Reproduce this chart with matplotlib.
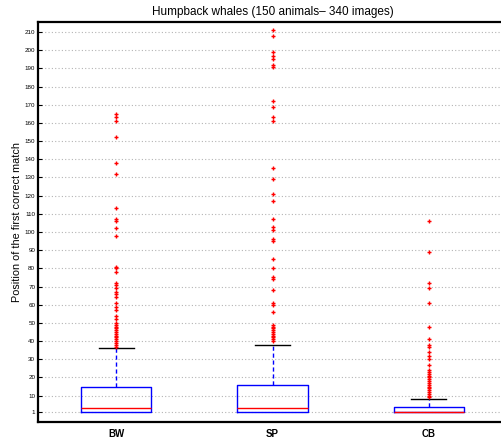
import matplotlib
matplotlib.use('Agg')
import matplotlib.pyplot as plt

plt.rcParams['font.family'] = ['Liberation Sans', 'DejaVu Sans']

# methods on the x axis
labels = ['BW', 'SP', 'CB']

# box statistics
q1 = [1, 1, 1]
medians = [3, 3, 1]
q3 = [15, 16, 4]
whisk_lo = [1, 1, 1]
whisk_hi = [36, 38, 8]

# outliers (position of first correct match)
fliers_bw = [165, 163, 161, 152, 138, 132, 113, 107, 106, 102, 98, 81, 80, 78,
             72, 71, 69, 67, 66, 64, 61, 59, 57, 54, 52, 50, 49, 48, 47, 46,
             45, 44, 43, 42, 41, 40, 39, 38, 37]
fliers_sp = [211, 208, 199, 197, 195, 192, 191, 172, 169, 163, 161, 135, 129,
             121, 117, 107, 103, 101, 96, 95, 85, 80, 75, 74, 68, 61, 60, 56,
             49, 48, 47, 46, 45, 44, 43, 42, 41, 40]
fliers_cb = [106, 89, 72, 69, 61, 48, 41, 38, 37, 34, 32, 30, 27, 24, 23, 22,
             21, 20, 19, 18, 17, 16, 15, 14, 13, 12, 11, 10, 9]
fliers = [fliers_bw, fliers_sp, fliers_cb]

yticks = [1] + list(range(10, 211, 10))

stats = []
for i in range(len(labels)):
    stats.append({'label': labels[i], 'q1': q1[i], 'med': medians[i], 'q3': q3[i],
                  'whislo': whisk_lo[i], 'whishi': whisk_hi[i], 'fliers': fliers[i]})

fig = plt.figure(figsize=(5.02, 4.41), dpi=100)
ax = fig.add_axes([38 / 502, 19 / 441, 469 / 502, 400 / 441])

# dotted horizontal grid first, so boxes sit on top
ax.set_yticks(yticks)
ax.yaxis.grid(True, linestyle=(0, (1, 2)), color='#b4b4b4', linewidth=0.8)
ax.set_axisbelow(True)

bp = ax.bxp(stats, positions=[1, 2, 3], widths=0.45, capwidths=0.225,
            showfliers=True, patch_artist=False,
            boxprops=dict(color='blue', linewidth=1.0),
            medianprops=dict(color='red', linewidth=1.0),
            whiskerprops=dict(color='blue', linestyle=(0, (3, 2)), linewidth=1.0),
            capprops=dict(color='black', linewidth=1.0),
            flierprops=dict(marker='+', markeredgecolor='red', markersize=3.5,
                            markeredgewidth=1.0, linestyle='none'))

# lower whiskers have zero length -> hide their caps
for j, cap in enumerate(bp['caps']):
    if j % 2 == 0:
        cap.set_visible(False)

ax.set_xlim(0.5, 3.5)
ax.set_ylim(-4.5, 215.5)
ax.set_xticks([1, 2, 3])
ax.set_xticklabels(labels, fontsize=7, fontweight='bold')
ax.tick_params(axis='x', length=0, pad=5)
ax.tick_params(axis='y', direction='in', length=3, width=0.8, labelsize=4.5, pad=2)

for side in ['left', 'bottom', 'top']:
    ax.spines[side].set_linewidth(1.6)
ax.spines['right'].set_visible(False)

ax.set_ylabel('Position of the first correct match', fontsize=7.8, labelpad=2)
ax.set_title('Humpback whales (150 animals\u2013 340 images)', fontsize=8.5, pad=5)

fig.savefig('out.png', dpi=100)
